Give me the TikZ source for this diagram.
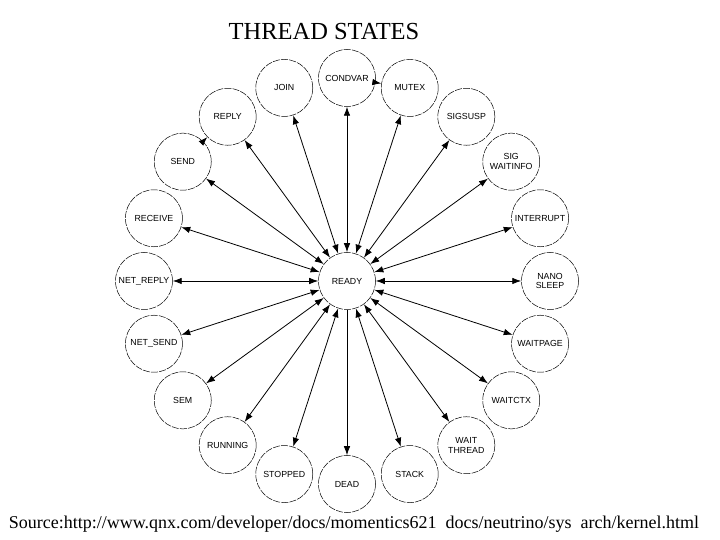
\documentclass[tikz,border=0pt]{standalone}
\usepackage{fontspec}
\setmainfont{Liberation Serif}
\setsansfont{Liberation Sans}
\usetikzlibrary{arrows.meta}

\begin{document}
\begin{tikzpicture}[x=1pt, y=1pt,
			>={Latex[length=9pt, width=6.5pt]},   % filled arrow tips
			state/.style={draw, circle, line width=0.5pt, dash pattern=on 7pt off 1.2pt, minimum size=57pt, inner sep=0pt, align=center, font=\sffamily\fontsize{8.8}{9.8}\selectfont},
			link/.style={line width=0.8pt}]
			\useasboundingbox (-347,-259) rectangle (373,281);
			\node (title) at (-23,249) {\fontsize{24.5}{27}\selectfont THREAD STATES};
			\node[state] (ready) at (0,0) {READY};
			% ring of states round READY
			\foreach \ang/\name/\txt in {90/condvar/CONDVAR, 72/mutex/MUTEX, 54/sigsusp/SIGSUSP,
				36/sigwait/{SIG\\WAITINFO}, 18/interrupt/INTERRUPT, 0/nanosleep/{NANO\\SLEEP},
				-18/waitpage/WAITPAGE, -36/waitctx/WAITCTX, -54/waitthread/{WAIT\\THREAD},
				-72/stack/STACK, -90/dead/DEAD, -108/stopped/STOPPED, -126/running/RUNNING,
				-144/sem/SEM, -162/netsend/NET\_SEND, 180/netreply/NET\_REPLY,
				162/receive/RECEIVE, 144/send/SEND, 126/reply/REPLY, 108/join/JOIN}
				\node[state] (\name) at (\ang:203) {\txt};
			\foreach \name in {condvar, mutex, sigsusp, sigwait, interrupt, nanosleep, waitpage,
				waitctx, waitthread, stack, stopped, running, sem, netsend, netreply,
				receive, send, reply, join}
				\draw[link, <->] (ready) -- (\name);
			\draw[link, ->] (ready) -- (dead);
			\draw[link, ->] (condvar) -- (mutex);
			\draw[link, ->] (send) -- (reply);
			\node (source) at (7,-243) {\fontsize{18}{21}\selectfont Source:http://www.qnx.com/developer/docs/momentics621\hspace{0.5em}docs/neutrino/sys\hspace{0.5em}arch/kernel.html};
		\end{tikzpicture}
\end{document}
